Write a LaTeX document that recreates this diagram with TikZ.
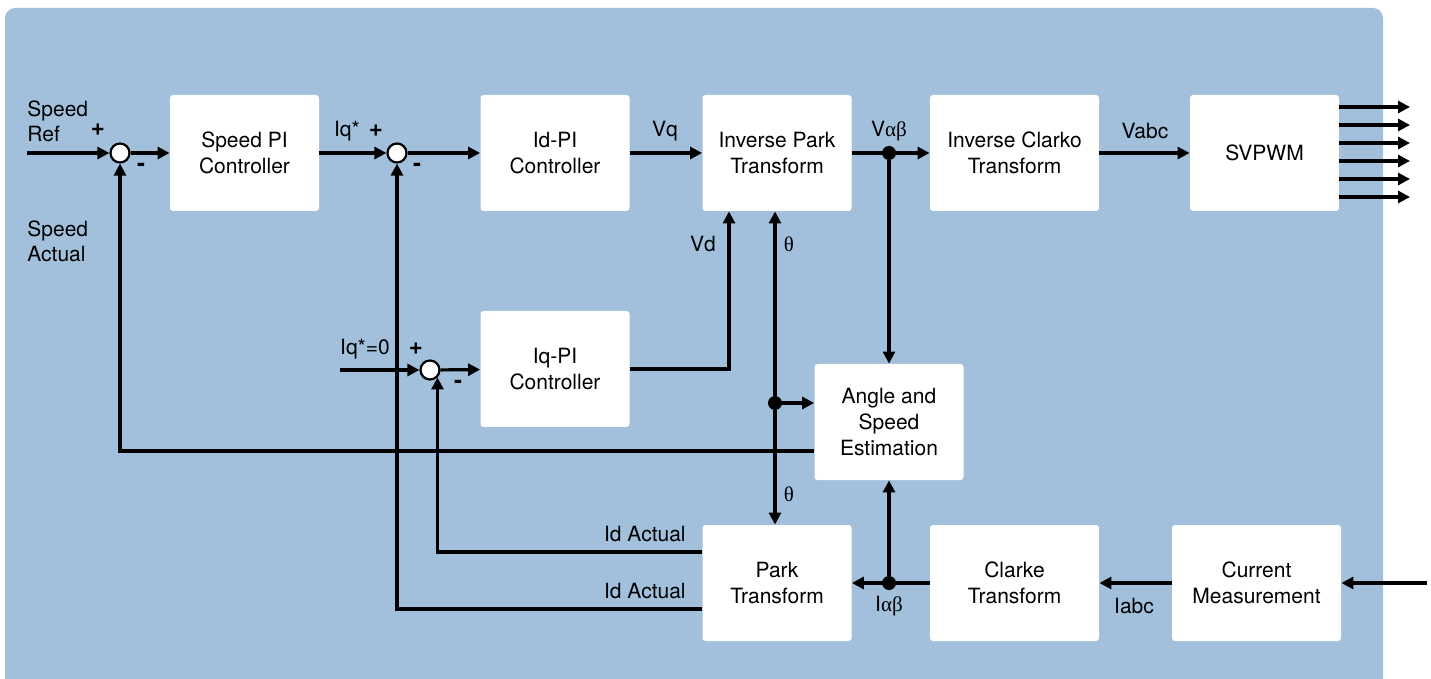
\documentclass[tikz,border=0pt]{standalone}
\usepackage{fontspec}
\setmainfont{TeX Gyre Heros}
\newfontfamily\grk{Liberation Serif}
\usetikzlibrary{arrows.meta,positioning}
\definecolor{panel}{RGB}{162,192,220}

\tikzset{
  blk/.style={fill=white, rounded corners=1.5pt, minimum width=74.5pt, minimum height=58pt,
    align=center, inner sep=0pt, font=\fontsize{10.5}{13}\selectfont},
  wideblk/.style={blk, minimum width=84.5pt},
  summ/.style={circle, draw, fill=white, line width=1.1pt, minimum size=9.5pt, inner sep=0pt},
  sig/.style={line width=1.6pt, -{Triangle[length=6pt,width=6pt]}},
  wire/.style={line width=1.6pt},
  lbl/.style={font=\fontsize{10.5}{12.5}\selectfont, inner sep=0pt},
  sgn/.style={font=\fontsize{12}{14}\bfseries, inner sep=0pt},
  dot/.style={circle, fill, minimum size=7pt, inner sep=0pt}
}

\begin{document}
\begin{tikzpicture}[x=0.5pt,y=-0.5pt]
\useasboundingbox (0,0) rectangle (1431,679);

% hatter
\fill[panel, rounded corners=5pt] (5,8) rectangle (1383,700);

% blokkok
\node[blk] (spi) at (244.5,153) {Speed PI\\Controller};
\node[blk] (idpi) at (555,153) {Id-PI\\Controller};
\node[blk] (ipark) at (777,153) {Inverse Park\\Transform};
\node[wideblk] (iclarke) at (1014.5,153) {Inverse Clarko\\Transform};
\node[blk] (svpwm) at (1264.5,153) {SVPWM};
\node[blk] (iqpi) at (555,369) {Iq-PI\\Controller};
\node[blk] (est) at (889,422) {Angle and\\Speed\\Estimation};
\node[blk] (park) at (777,583) {Park\\Transform};
\node[wideblk] (clarke) at (1014.5,583) {Clarke\\Transform};
\node[wideblk] (meas) at (1256.5,583) {Current\\Measurement};

% osszegzok, pontok
\node[summ] (s1) at (120,153) {};
\node[summ] (s2) at (397,153) {};
\node[summ] (s3) at (430,370) {};
\node[dot] (dv) at (889,153) {};
\node[dot] (dth) at (775,403) {};
\node[dot] (di) at (889,583) {};
\coordinate (refin) at (27,153);
\coordinate (iqin) at (340,370);
\coordinate (iin) at (1427,583);

% felso sor
\draw[sig] (refin) -- (s1);
\draw[sig] (s1) -- (spi);
\draw[sig] (spi) -- (s2);
\draw[sig] (s2) -- (idpi);
\draw[sig] (idpi) -- (ipark);
\draw[wire] (ipark) -- (dv);
\draw[sig] (dv) -- (iclarke);
\draw[sig] (iclarke) -- (svpwm);
\draw[sig] (dv) -- (est);
\foreach \i/\y in {1/107,2/125,3/143,4/161,5/179,6/197}{
  \coordinate (out\i) at (1410,\y);
  \draw[sig] (svpwm.east |- out\i) -- (out\i);
}

% also sor
\draw[sig] (iin) -- (meas);
\draw[sig] (meas) -- (clarke);
\draw[wire] (clarke) -- (di);
\draw[sig] (di) -- (park);
\draw[sig] (di) -- (est);

% visszacsatolasok
\draw[sig] ([yshift=-14.5pt]est.west) -| (s1.south);
\draw[sig] ([yshift=15.5pt]park.west) -| (s3.-45);
\draw[sig] ([yshift=-13pt]park.west) -| (s2.south);
\draw[sig] (iqin) -- (s3);
\draw[sig] (s3) -- (iqpi);
\draw[sig] (iqpi) -| ([xshift=-24pt]ipark.south);
\draw[sig] (dth) -- ([xshift=-1pt]ipark.south);
\draw[sig] (dth) -- ([xshift=-1pt]park.north);
\draw[sig] (dth) -- (dth -| est.west);

% feliratok
\node[lbl, anchor=north west, align=left] (lref) at (27,100) {Speed\\Ref};
\node[lbl, anchor=north west, align=left] (lact) at (27,220) {Speed\\Actual};
\node[sgn] (p1) at (98,130) {+};
\node[sgn] (m1) at (141,167) {-};
\node[lbl] (liq) at (347,131) {Iq*};
\node[sgn] (p2) at (376,131) {+};
\node[sgn] (m2) at (417,167) {-};
\node[lbl] (liq0) at (365,349) {Iq*=0};
\node[sgn] (p3) at (416,349) {+};
\node[sgn] (m3) at (458,384) {-};
\node[lbl] (lvq) at (665,131) {Vq};
\node[lbl] (lvab) at (889,131) {V{\grk αβ}};
\node[lbl] (lvabc) at (1145,131) {Vabc};
\node[lbl] (lvd) at (703,244) {Vd};
\node[lbl] (lth1) at (789,244) {\grk θ};
\node[lbl] (lth2) at (789,494) {\grk θ};
\node[lbl, anchor=base east] (lida) at (686,541) {Id Actual};
\node[lbl, anchor=base east] (lidb) at (686,598) {Id Actual};
\node[lbl] (liab) at (889,606) {I{\grk αβ}};
\node[lbl] (liabc) at (1134,606) {Iabc};
\end{tikzpicture}
\end{document}
